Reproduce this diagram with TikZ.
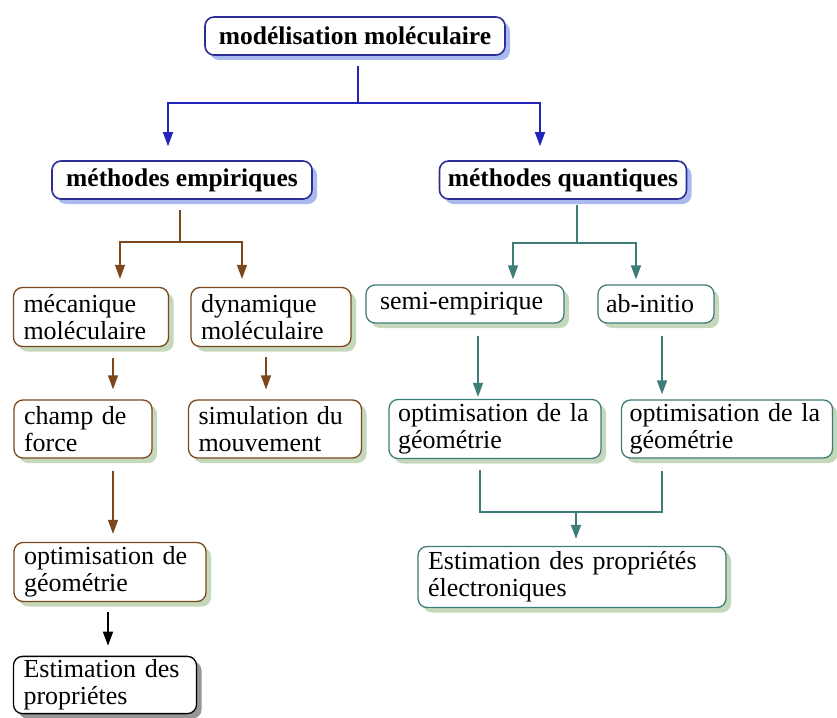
\documentclass[tikz,border=0pt]{standalone}
\usepackage{fontspec}
\setmainfont{Liberation Serif}
\usetikzlibrary{arrows.meta,shadows}
\definecolor{bordoblu}{RGB}{45,45,150}
\definecolor{frecciablu}{RGB}{35,35,190}
\definecolor{ombrablu}{RGB}{170,185,238}
\definecolor{marrone}{RGB}{122,72,28}
\definecolor{ombraverde}{RGB}{198,216,188}
\definecolor{verdeacqua}{RGB}{62,124,120}
\definecolor{ombragrigia}{RGB}{150,150,150}
\tikzset{
    titolo/.style={draw=bordoblu, line width=1.6pt, rounded corners=9pt, fill=white,
        font=\bfseries\fontsize{25.5}{28}\selectfont, minimum height=38pt,
        drop shadow={shadow xshift=5pt, shadow yshift=-5pt, fill=ombrablu, opacity=1}},
    riquadro/.style={line width=1.3pt, rounded corners=9pt, fill=white, align=left,
        inner xsep=10pt, font=\fontsize{26}{27}\selectfont,
        drop shadow={shadow xshift=5pt, shadow yshift=-5pt, fill=#1, opacity=1}},
    empirico/.style={riquadro=ombraverde, draw=marrone},
    quantico/.style={riquadro=ombraverde, draw=verdeacqua},
    finale/.style={riquadro=ombragrigia, draw=black},
    freccia/.style={-{Triangle[length=14pt,width=10pt]}, line width=1.4pt}
}
\begin{document}
\begin{tikzpicture}[x=1pt, y=-1pt]
    \useasboundingbox (0,0) rectangle (837,717);
    %titoli
    \node[titolo, minimum width=300pt] (mod) at (355,36) {modélisation moléculaire};
    \node[titolo, minimum width=260pt] (emp) at (182,180) {méthodes empiriques};
    \node[titolo, minimum width=247pt] (quant) at (563,180) {méthodes quantiques};
    %metodi empirici
    \node[empirico, text width=135pt, minimum height=59pt] (mec) at (91,317) {mécanique\\moléculaire};
    \node[empirico, text width=140pt, minimum height=59pt] (dyn) at (271,317) {dynamique\\ moléculaire};
    \node[empirico, text width=118pt, minimum height=58pt] (champ) at (83,429) {champ de\\force};
    \node[empirico, text width=153pt, minimum height=58pt] (sim) at (275,429) {simulation du\\mouvement};
    \node[empirico, text width=172pt, minimum height=59pt] (optg) at (110,572) {optimisation de\\géométrie};
    \node[finale, text width=163pt, minimum height=57pt] (est) at (105,685) {Estimation des\\propriétes};
    %metodi quantici
    \node[quantico, text width=170pt, minimum height=38pt, inner xsep=14pt] (semi) at (465,304) {semi-empirique};
    \node[quantico, text width=100pt, minimum height=38pt, inner xsep=8pt] (ab) at (656,304) {ab-initio};
    \node[quantico, text width=194pt, minimum height=59pt, inner xsep=9pt] (optL) at (495,429) {optimisation de la\\géométrie};
    \node[quantico, text width=195pt, minimum height=58pt, inner xsep=8pt] (optR) at (727,429) {optimisation de la\\géométrie};
    \node[quantico, text width=288pt, minimum height=61pt] (estE) at (572,577) {Estimation des propriétés\\électroniques};
    %bivi
    \coordinate (bivio1) at (358,103);
    \coordinate (bivio2) at (180,242);
    \coordinate (bivio3) at (577,243);
    \coordinate (bivio4) at (576,512);
    %frecce blu
    \draw[line width=1.4pt, frecciablu] ([xshift=3pt,yshift=-10pt]mod.south) -- (bivio1);
    \draw[freccia, frecciablu] (bivio1) -| ([xshift=-14pt,yshift=14pt]emp.north);
    \draw[freccia, frecciablu] (bivio1) -| ([xshift=-23pt,yshift=14pt]quant.north);
    %frecce marroni
    \draw[line width=1.4pt, marrone] ([xshift=-2pt,yshift=-10pt]emp.south) -- (bivio2);
    \draw[freccia, marrone] (bivio2) -| ([xshift=29pt,yshift=8pt]mec.north);
    \draw[freccia, marrone] (bivio2) -| ([xshift=-29pt,yshift=8pt]dyn.north);
    \draw[freccia, marrone] ([xshift=22pt,yshift=-11pt]mec.south) -- ([xshift=30pt,yshift=10pt]champ.north);
    \draw[freccia, marrone] ([xshift=-5pt,yshift=-10pt]dyn.south) -- ([xshift=-9pt,yshift=10pt]sim.north);
    \draw[freccia, marrone] ([xshift=30pt,yshift=-12pt]champ.south) -- ([xshift=3pt,yshift=8pt]optg.north);
    \draw[freccia, black] ([xshift=-2pt,yshift=-10pt]optg.south) -- ([xshift=3pt,yshift=10pt]est.north);
    %frecce verdi
    \draw[line width=1.4pt, verdeacqua] ([xshift=14pt,yshift=-5pt]quant.south) -- (bivio3);
    \draw[freccia, verdeacqua] (bivio3) -| ([xshift=48pt,yshift=5pt]semi.north);
    \draw[freccia, verdeacqua] (bivio3) -| ([xshift=-20pt,yshift=5pt]ab.north);
    \draw[freccia, verdeacqua] ([xshift=13pt,yshift=-12pt]semi.south) -- ([xshift=-17pt,yshift=2pt]optL.north);
    \draw[freccia, verdeacqua] ([xshift=6pt,yshift=-12pt]ab.south) -- ([xshift=-65pt,yshift=5pt]optR.north);
    \draw[line width=1.4pt, verdeacqua] ([xshift=-15pt,yshift=-11pt]optL.south) |- (bivio4) -| ([xshift=-65pt,yshift=-12pt]optR.south);
    \draw[freccia, verdeacqua] (bivio4) -- ([xshift=4pt,yshift=7pt]estE.north);
\end{tikzpicture}
\end{document}
